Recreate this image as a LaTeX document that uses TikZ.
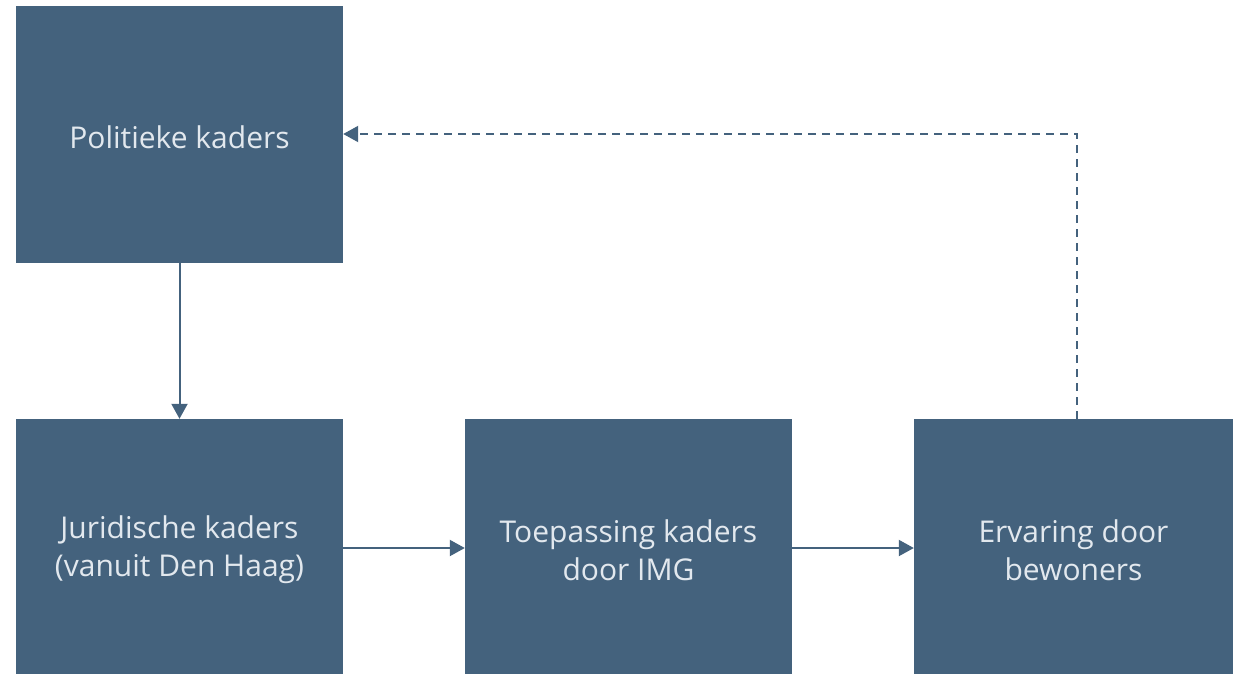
\documentclass[tikz,border=0pt]{standalone}
\usepackage{fontspec}
\setmainfont{Open Sans}
\usetikzlibrary{arrows.meta}
\definecolor{boxblue}{HTML}{44627D}
\definecolor{boxtext}{HTML}{E2E8EE}
\begin{document}
\begin{tikzpicture}[x=1pt,y=-1pt,
  blk/.style={fill=boxblue,draw=none,minimum width=#1,minimum height=262pt,inner sep=0pt,
    text=boxtext,align=center,font=\fontsize{30}{38}\selectfont},
  conn/.style={draw=boxblue,line width=2pt,-{Triangle[length=15pt,width=16pt]}}]
\useasboundingbox (0,0) rectangle (1233,673);
\node[blk=327pt,minimum height=257pt] (pol) at (179.5,134.5) {\raisebox{-3pt}[\height][\depth]{Politieke kaders}};
\node[blk=327pt] (jur) at (179.5,550) {Juridische kaders\\(vanuit Den Haag)};
\node[blk=327pt] (toe) at (628.5,550) {Toepassing kaders\\door IMG};
\node[blk=319pt] (erv) at (1073.5,550) {Ervaring door\\bewoners};
\draw[conn] (pol.south) -- (jur.north);
\draw[conn] (jur.east |- 0,548) -- (toe.west |- 0,548);
\draw[conn] (toe.east |- 0,548) -- (erv.west |- 0,548);
\coordinate (corner) at (1077,134);
\draw[conn,dash pattern=on 8pt off 6pt] (erv.north -| corner) -- (corner) -- (pol.east |- corner);
\end{tikzpicture}
\end{document}
